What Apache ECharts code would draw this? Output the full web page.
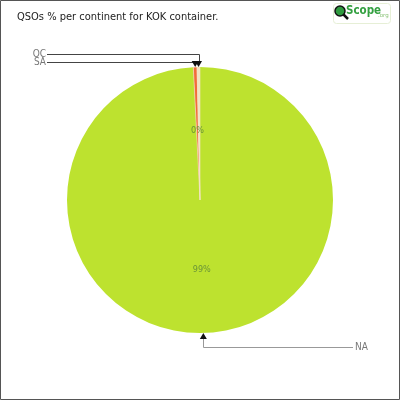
<!DOCTYPE html>
<html><head><meta charset="utf-8">
<script src="https://cdn.jsdelivr.net/npm/echarts@6/dist/echarts.min.js"></script>
<style>html,body{margin:0;padding:0;background:#fff}#c{width:400px;height:400px}</style>
</head><body><div id="c"></div>
<script>
const continents = ['NA', 'SA', 'OC'];
const shares = [99.2, 0.45, 0.35];
const sliceColors = ['#bde22f', '#f26b3a', '#f3e4c2'];
const chartTitle = 'QSOs % per continent for KOK container.';

const W = 400, H = 400, cx = 200, cy = 200, R = 133;
const total = shares.reduce((a, b) => a + b, 0);
let cum = 0;
const anchors = shares.map(v => {
  const mid = (90 - 360 * (cum + v / 2) / total) * Math.PI / 180;
  cum += v;
  return { x: cx + R * Math.cos(mid), y: cy - R * Math.sin(mid), up: Math.sin(mid) > 0 };
});
const topOrder = { 'OC': 0, 'SA': 1 };

const chart = echarts.init(document.getElementById('c'), null, { renderer: 'canvas' });
const pieData = continents.map((n, i) => ({
  name: n, value: shares[i],
  itemStyle: { color: sliceColors[i], borderColor: n === 'NA' ? 'transparent' : '#f3e4c2', borderWidth: n === 'NA' ? 0 : 0.6 }
}));

const arrows = anchors.map(a => {
  const dir = a.up ? -1 : 1;
  return {
    type: 'polygon', z: 100,
    shape: { points: [[a.x, a.y], [a.x - 3.5, a.y + dir * 6], [a.x + 3.5, a.y + dir * 6]] },
    style: { fill: '#111' }
  };
});

chart.setOption({
  animation: false,
  backgroundColor: '#fff',
  title: {
    text: chartTitle, left: 12, top: 7,
    textStyle: { fontFamily: 'DejaVu Sans Condensed', fontSize: 11, fontWeight: 'normal', color: '#222' }
  },
  graphic: [
    { type: 'rect', shape: { x: 0.5, y: 0.5, width: W - 1, height: H - 1 }, style: { fill: 'none', stroke: '#555', lineWidth: 1 }, z: 200 },
    { type: 'rect', shape: { x: 333.5, y: 3.5, width: 57, height: 20, r: 3 }, style: { fill: '#fff', stroke: '#e6efd6', lineWidth: 1 } },
    { type: 'line', shape: { x1: 342, y1: 13, x2: 348, y2: 19 }, style: { stroke: '#111', lineWidth: 2.5 } },
    { type: 'circle', shape: { cx: 340, cy: 11, r: 5 }, style: { fill: '#2e9a3e', stroke: '#111', lineWidth: 1.5 } },
    { type: 'text', x: 346, y: 5, style: { text: 'Scope', fontFamily: 'DejaVu Sans Condensed', fontWeight: 'bold', fontSize: 11.5, fill: '#33a040' } },
    { type: 'text', x: 378, y: 13, style: { text: '.org', fontFamily: 'DejaVu Sans', fontSize: 5.5, fill: '#8cc47a' } }
  ].concat(arrows),
  series: [
    {
      type: 'pie', center: [cx, cy], radius: [0, R], startAngle: 90, clockwise: true,
      silent: true, data: pieData,
      label: {
        show: true, position: 'inside',
        formatter: p => Math.round(p.percent) + '%',
        fontFamily: 'DejaVu Sans Condensed', fontSize: 9, color: '#6a9438'
      },
      labelLine: { show: false }
    },
    {
      type: 'pie', center: [cx, cy], radius: [0, R], startAngle: 90, clockwise: true,
      silent: true, z: 5,
      data: continents.map((n, i) => ({
        name: n, value: shares[i],
        labelLine: { lineStyle: { color: n === 'NA' ? '#999' : '#444' } }
      })),
      itemStyle: { color: 'rgba(0,0,0,0)', borderWidth: 0 },
      label: {
        show: true, position: 'outside', formatter: '{b}',
        fontFamily: 'DejaVu Sans Condensed', fontSize: 10, color: '#777'
      },
      labelLine: { show: true, lineStyle: { width: 1 } },
      labelLayout: function (p) {
        const i = p.dataIndex;
        const a = anchors[i];
        const name = continents[i];
        const lx = Math.round(a.x) + 0.5;
        if (a.up) {
          const ly = Math.round(a.y - 13 + 8 * topOrder[name]) + 0.5;
          return {
            x: 46, y: ly, align: 'right', verticalAlign: 'middle',
            labelLinePoints: [[lx, a.y - 5], [lx, ly], [47, ly]]
          };
        } else {
          const ly = Math.round(a.y + 14) + 0.5;
          return {
            x: 355, y: ly, align: 'left', verticalAlign: 'middle',
            labelLinePoints: [[lx, a.y + 5], [lx, ly], [353, ly]]
          };
        }
      }
    }
  ]
});
</script>
</body></html>
